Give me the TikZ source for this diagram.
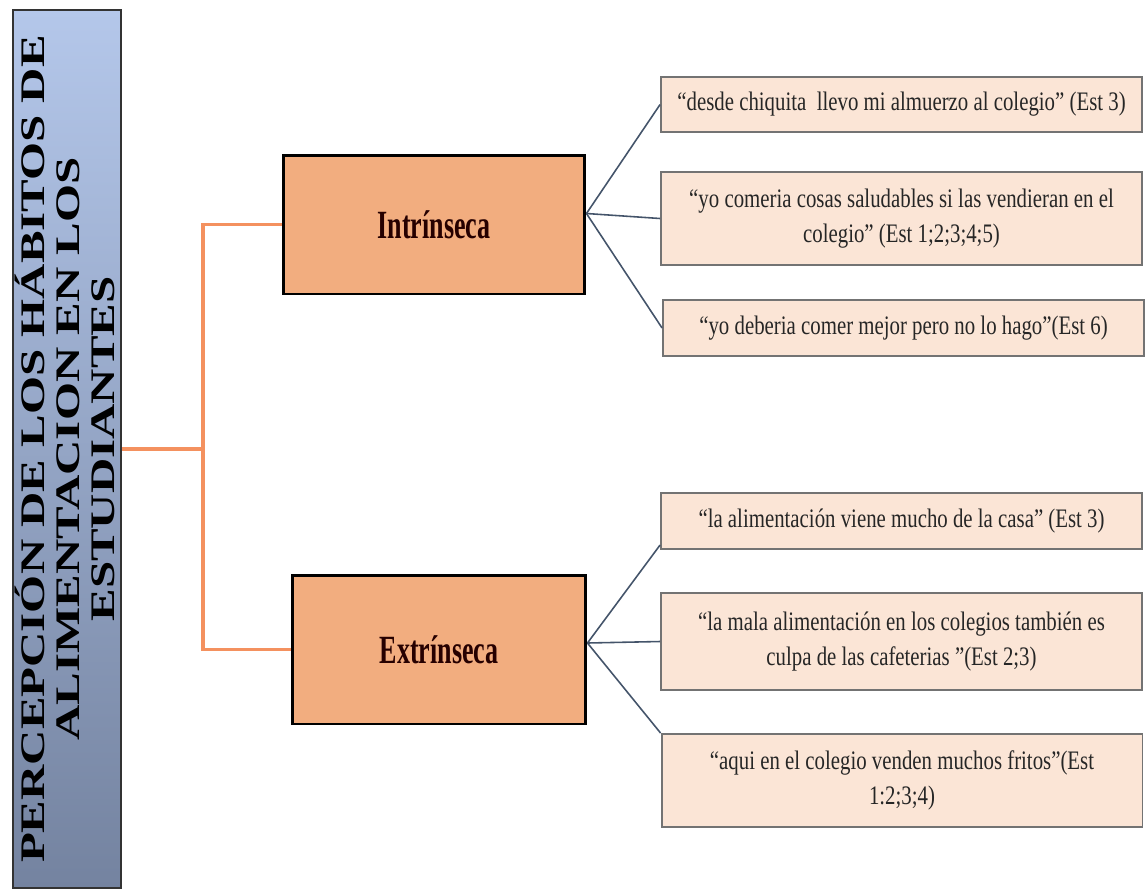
\documentclass[tikz,border=0pt]{standalone}
\usepackage{fontspec}
\setmainfont{Liberation Serif}
\newfontfamily\citafont[FakeStretch=0.78]{Liberation Serif}
\newfontfamily\ramafont[FakeStretch=0.65]{Liberation Serif}
\newfontfamily\temafont[FakeStretch=1.42]{Liberation Serif}
\usetikzlibrary{calc}
\definecolor{naranja}{RGB}{242,173,127}
\definecolor{naranjalinea}{RGB}{244,145,95}
\definecolor{crema}{RGB}{251,229,214}
\definecolor{azulclaro}{RGB}{180,199,234}
\definecolor{azuloscuro}{RGB}{116,131,160}
\definecolor{pizarra}{RGB}{68,84,106}
\tikzset{
	rama/.style={draw=black, line width=1.7pt, fill=naranja, text=black!85!red, font=\ramafont\bfseries\fontsize{22.8}{26}\selectfont},
	cita/.style={draw=black!55, line width=1.1pt, fill=crema, align=center, minimum width=9.62cm, text=black!85, font=\citafont\fontsize{15.2}{19.6}\selectfont},
	tronco/.style={draw=naranjalinea, line width=2.1pt},
	hoja/.style={draw=pizarra, line width=0.9pt}
}

\begin{document}
\begin{tikzpicture}[x=0.02cm, y=-0.02cm]
		%%%%% START %%%%%
		\useasboundingbox (0, 0) rectangle (1146, 890);
		
		\node (tema) [draw=black!80, line width=1.2pt, top color=azulclaro, bottom color=azuloscuro, minimum width=2.16cm, minimum height=17.56cm] at (67, 449) {};
		\node (titulo) [rotate=90, align=center, font=\temafont\bfseries\fontsize{19.6}{20}\selectfont] at ([xshift=-0.04cm]tema.center) {PERCEPCIÓN DE LOS HÁBITOS DE\\ALIMENTACION EN LOS\\ESTUDIANTES};
		
		\node (intr) [rama, minimum width=6.04cm, minimum height=2.78cm] at (434, 224.5) {Intrínseca};
		\node (extr) [rama, minimum width=5.88cm, minimum height=2.98cm] at (439, 649.5) {Extrínseca};
		
		\coordinate (split) at (203, 449);
		\draw[tronco] (tema.east) -- (split) |- (intr.west);
		\draw[tronco] (split) |- (extr.west);
		
		\node (q1) [cita, minimum height=1.10cm] at (901.5, 104.5) {“desde chiquita~ llevo mi almuerzo al colegio” (Est 3)};
		\node (q2) [cita, minimum height=1.86cm] at (901.5, 218.5) {“yo comeria cosas saludables si las vendieran en el\\colegio” (Est 1;2;3;4;5)};
		\node (q3) [cita, minimum height=1.12cm] at (903.5, 328) {“yo deberia comer mejor pero no lo hago”(Est 6)};
		
		\node (q4) [cita, minimum height=1.12cm] at (901.5, 521) {“la alimentación viene mucho de la casa” (Est 3)};
		\node (q5) [cita, minimum height=1.94cm] at (901.5, 641.5) {“la mala alimentación en los colegios también es\\culpa de las cafeterias ”(Est 2;3)};
		\node (q6) [cita, minimum height=1.86cm] at (902, 780.5) {“aqui en el colegio venden muchos fritos”(Est\\1:2;3;4)};
		
		\coordinate (fanA) at ([yshift=0.22cm]intr.east);
		\coordinate (fanB) at ([yshift=0.13cm]extr.east);
		\draw[hoja] (fanA) -- (q1.west);
		\draw[hoja] (fanA) -- (q2.west);
		\draw[hoja] (fanA) -- (q3.west);
		\draw[hoja] (fanB) -- ([yshift=-0.48cm]q4.west);
		\draw[hoja] (fanB) -- (q5.west);
		\draw[hoja] (fanB) -- (q6.north west);
		%%%%% END %%%%%
	\end{tikzpicture}
\end{document}
